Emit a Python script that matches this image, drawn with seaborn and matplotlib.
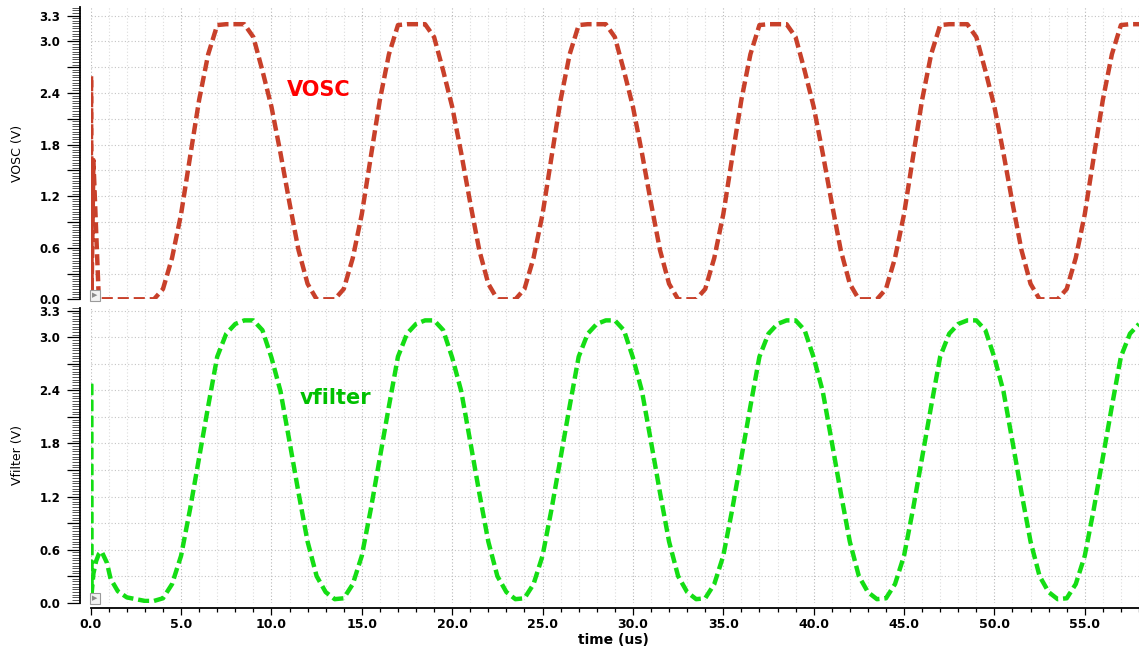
import matplotlib
matplotlib.use("Agg")
import numpy as np
import pandas as pd
import matplotlib.pyplot as plt
from matplotlib.ticker import MultipleLocator, FixedLocator, FixedFormatter
import seaborn as sns

# %% DATA

time_us = [
    0.0, 0.02, 0.05, 0.15, 0.3, 0.45, 0.6, 0.9, 1.1,
    1.5, 2.0, 2.5, 3.0, 3.5,
    4.0, 4.5, 5.0, 5.5, 6.0, 6.5, 7.0, 7.5, 8.0, 8.5, 9.0, 9.5, 10.0, 10.5, 11.0, 11.5, 12.0, 12.5, 13.0, 13.5,
    14.0, 14.5, 15.0, 15.5, 16.0, 16.5, 17.0, 17.5, 18.0, 18.5, 19.0, 19.5, 20.0, 20.5, 21.0, 21.5, 22.0, 22.5, 23.0, 23.5,
    24.0, 24.5, 25.0, 25.5, 26.0, 26.5, 27.0, 27.5, 28.0, 28.5, 29.0, 29.5, 30.0, 30.5, 31.0, 31.5, 32.0, 32.5, 33.0, 33.5,
    34.0, 34.5, 35.0, 35.5, 36.0, 36.5, 37.0, 37.5, 38.0, 38.5, 39.0, 39.5, 40.0, 40.5, 41.0, 41.5, 42.0, 42.5, 43.0, 43.5,
    44.0, 44.5, 45.0, 45.5, 46.0, 46.5, 47.0, 47.5, 48.0, 48.5, 49.0, 49.5, 50.0, 50.5, 51.0, 51.5, 52.0, 52.5, 53.0, 53.5,
    54.0, 54.5, 55.0, 55.5, 56.0, 56.5, 57.0, 57.5, 58.0,
]

vosc = [
    0.0, 2.6, 0.05, 1.62, 0.8, 0.0, 0.0, 0.0, 0.0,
    0.0, 0.0, 0.0, 0.0, 0.0,
    0.12, 0.48, 0.99, 1.66, 2.32, 2.85, 3.19, 3.20, 3.20, 3.20, 3.05, 2.66, 2.24, 1.70, 1.12, 0.57, 0.18, 0.0, 0.0, 0.0,
    0.12, 0.48, 0.99, 1.66, 2.32, 2.85, 3.19, 3.20, 3.20, 3.20, 3.05, 2.66, 2.24, 1.70, 1.12, 0.57, 0.18, 0.0, 0.0, 0.0,
    0.12, 0.48, 0.99, 1.66, 2.32, 2.85, 3.19, 3.20, 3.20, 3.20, 3.05, 2.66, 2.24, 1.70, 1.12, 0.57, 0.18, 0.0, 0.0, 0.0,
    0.12, 0.48, 0.99, 1.66, 2.32, 2.85, 3.19, 3.20, 3.20, 3.20, 3.05, 2.66, 2.24, 1.70, 1.12, 0.57, 0.18, 0.0, 0.0, 0.0,
    0.12, 0.48, 0.99, 1.66, 2.32, 2.85, 3.19, 3.20, 3.20, 3.20, 3.05, 2.66, 2.24, 1.70, 1.12, 0.57, 0.18, 0.0, 0.0, 0.0,
    0.12, 0.48, 0.99, 1.66, 2.32, 2.85, 3.19, 3.20, 3.20,
]

vfilter = [
    0.0, 2.5, 0.1, 0.33, 0.47, 0.55, 0.58, 0.45, 0.27,
    0.13, 0.06, 0.04, 0.02, 0.02,
    0.05, 0.21, 0.53, 1.06, 1.64, 2.22, 2.78, 3.04, 3.15, 3.19, 3.19, 3.08, 2.77, 2.39, 1.82, 1.24, 0.69, 0.30, 0.12, 0.04,
    0.05, 0.21, 0.53, 1.06, 1.64, 2.22, 2.78, 3.04, 3.15, 3.19, 3.19, 3.08, 2.77, 2.39, 1.82, 1.24, 0.69, 0.30, 0.12, 0.04,
    0.05, 0.21, 0.53, 1.06, 1.64, 2.22, 2.78, 3.04, 3.15, 3.19, 3.19, 3.08, 2.77, 2.39, 1.82, 1.24, 0.69, 0.30, 0.12, 0.04,
    0.05, 0.21, 0.53, 1.06, 1.64, 2.22, 2.78, 3.04, 3.15, 3.19, 3.19, 3.08, 2.77, 2.39, 1.82, 1.24, 0.69, 0.30, 0.12, 0.04,
    0.05, 0.21, 0.53, 1.06, 1.64, 2.22, 2.78, 3.04, 3.15, 3.19, 3.19, 3.08, 2.77, 2.39, 1.82, 1.24, 0.69, 0.30, 0.12, 0.04,
    0.05, 0.21, 0.53, 1.06, 1.64, 2.22, 2.78, 3.04, 3.15,
]

y_ticks = [0.0, 0.3, 0.6, 0.9, 1.2, 1.5, 1.8, 2.1, 2.4, 2.7, 3.0, 3.3]
y_labels = ["0.0", "", "0.6", "", "1.2", "", "1.8", "", "2.4", "", "3.0", "3.3"]
x_ticks = [0, 5, 10, 15, 20, 25, 30, 35, 40, 45, 50, 55]
x_labels = ["0.0", "5.0", "10.0", "15.0", "20.0", "25.0", "30.0", "35.0", "40.0", "45.0", "50.0", "55.0"]

df = pd.DataFrame({"time": time_us, "VOSC": vosc, "vfilter": vfilter})

# %% PLOT

sns.set_style("white")
plt.rcParams.update({
    "font.family": ["DejaVu Sans"],
    "text.color": "black",
    "axes.labelcolor": "black",
    "xtick.color": "black",
    "ytick.color": "black",
    "xtick.bottom": True,
    "ytick.left": True,
})

W, H = 1139, 651
fig = plt.figure(figsize=(W / 100, H / 100), dpi=100)
x0 = 90.7 / W
ax1 = fig.add_axes([x0, 1 - 299.3 / H, 1 - x0, (299.3 - 7) / H])
ax2 = fig.add_axes([x0, 1 - 602.7 / H, 1 - x0, (602.7 - 308) / H])

def style_axis(ax, ymax):
    ax.set_xlim(0, 58)
    ax.set_ylim(0, ymax)
    ax.xaxis.set_major_locator(FixedLocator(x_ticks))
    ax.xaxis.set_major_formatter(FixedFormatter(x_labels))
    ax.xaxis.set_minor_locator(MultipleLocator(1))
    ax.yaxis.set_major_locator(FixedLocator(y_ticks))
    ax.yaxis.set_major_formatter(FixedFormatter(y_labels))
    ax.yaxis.set_minor_locator(MultipleLocator(0.03))
    ax.grid(which="major", axis="x", color="#b8b8b8", ls=(0, (1, 2)), lw=0.8)
    ax.grid(which="minor", axis="x", color="#dddddd", ls=(0, (1, 2)), lw=0.8)
    ax.grid(which="major", axis="y", color="#c4c4c4", ls=(0, (1, 2)), lw=0.8)
    for s in ["top", "right"]:
        ax.spines[s].set_visible(False)
    for s in ["left", "bottom"]:
        ax.spines[s].set_linewidth(1.3)
        ax.spines[s].set_color("black")
    ax.spines["left"].set_position(("outward", 7.7))
    ax.spines["bottom"].set_position(("outward", 3.8))
    ax.tick_params(axis="y", which="major", left=True, length=9.5, width=0.9,
                   color="black", pad=4.5, labelsize=8.5)
    ax.tick_params(axis="y", which="minor", left=True, length=5.5, width=0.7,
                   color="#555555")
    ax.tick_params(axis="x", which="major", bottom=True, length=5, width=0.9,
                   color="black", pad=2, labelsize=9)
    ax.tick_params(axis="x", which="minor", bottom=True, length=3, width=0.9,
                   color="black")
    for lab in ax.get_xticklabels() + ax.get_yticklabels():
        lab.set_fontweight("bold")
    # little trace marker box in the corner
    ax.text(0.0015, 0.004, "\u25B6", transform=ax.transAxes, ha="left", va="bottom",
            fontsize=5, color="#8a8a8a", zorder=5,
            bbox=dict(boxstyle="square,pad=0.35", fc="#f2f2f2", ec="#9a9a9a", lw=0.8))

sns.lineplot(data=df, x="time", y="VOSC", ax=ax1, color="#c8402a", linewidth=3.2)
sns.lineplot(data=df, x="time", y="vfilter", ax=ax2, color="#14dd14", linewidth=3.2)
for ax in [ax1, ax2]:
    ln = ax.lines[-1]
    ln.set_dashes([2.5, 1.1])
    ln.set_dash_capstyle("butt")
    ln.set_zorder(3)

style_axis(ax1, 3.4)
style_axis(ax2, 3.33)

ax1.spines["bottom"].set_visible(False)
ax1.tick_params(axis="x", which="both", bottom=False, labelbottom=False)
ax1.set_xlabel("")

ax1.set_ylabel("VOSC (V)", fontsize=9)
ax1.yaxis.set_label_coords(-0.0636, 0.5)
ax2.set_ylabel("Vfilter (V)", fontsize=9)
ax2.yaxis.set_label_coords(-0.0636, 0.5)
ax2.set_xlabel("time (us)", fontsize=10, fontweight="bold")
ax2.xaxis.set_label_coords(0.499, -0.103)

ax1.text(12.6, 2.44, "VOSC", color="#ff0000", fontsize=15, fontweight="bold",
         ha="center", va="center", zorder=6)
ax2.text(13.52, 2.31, "vfilter", color="#00c000", fontsize=15, fontweight="bold",
         ha="center", va="center", zorder=6)

fig.savefig("out.png", dpi=100)
